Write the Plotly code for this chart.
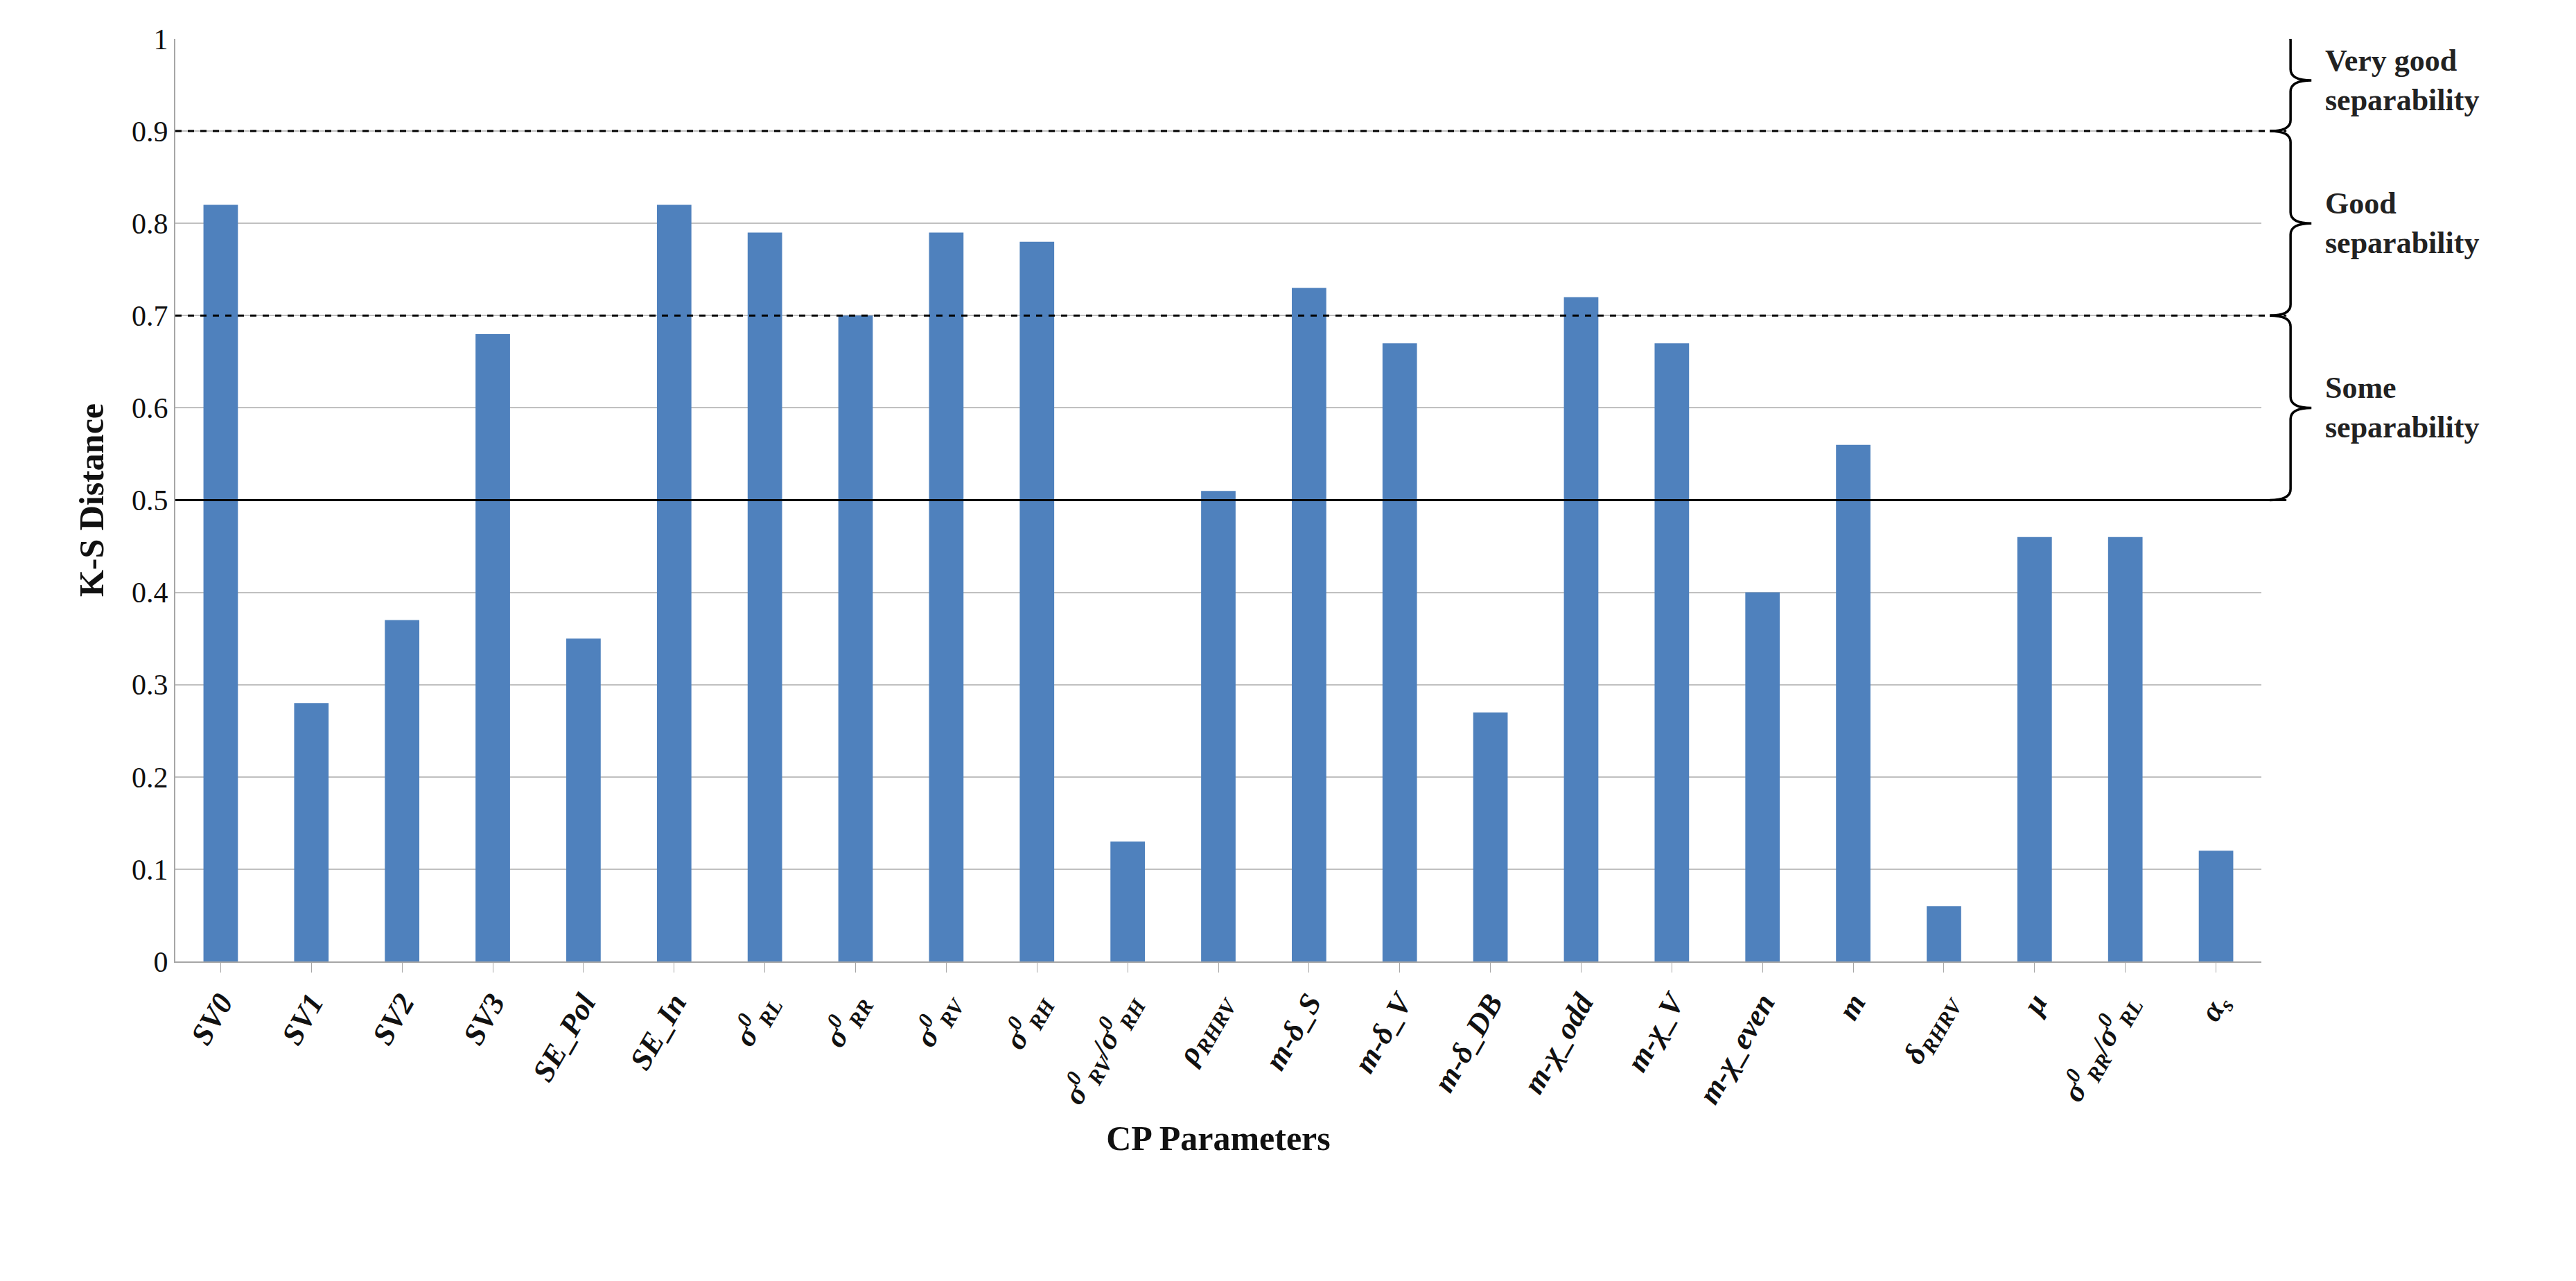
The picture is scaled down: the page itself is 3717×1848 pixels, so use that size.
import plotly.graph_objects as go

# --- data ---
params = ["<b><i>SV0</i></b>", "<b><i>SV1</i></b>", "<b><i>SV2</i></b>", "<b><i>SV3</i></b>",
          "<b><i>SE_Pol</i></b>", "<b><i>SE_In</i></b>",
          "<b><i>σ<sup>0</sup><sub>RL</sub></i></b>", "<b><i>σ<sup>0</sup><sub>RR</sub></i></b>",
          "<b><i>σ<sup>0</sup><sub>RV</sub></i></b>", "<b><i>σ<sup>0</sup><sub>RH</sub></i></b>",
          "<b><i>σ<sup>0</sup><sub>RV</sub>/σ<sup>0</sup><sub>RH</sub></i></b>",
          "<b><i>ρ<sub>RHRV</sub></i></b>", "<b><i>m-δ_S</i></b>", "<b><i>m-δ_V</i></b>",
          "<b><i>m-δ_DB</i></b>", "<b><i>m-χ_odd</i></b>", "<b><i>m-χ_V</i></b>",
          "<b><i>m-χ_even</i></b>", "<b><i>m</i></b>", "<b><i>δ<sub>RHRV</sub></i></b>",
          "<b><i>μ</i></b>", "<b><i>σ<sup>0</sup><sub>RR</sub>/σ<sup>0</sup><sub>RL</sub></i></b>",
          "<b><i>α<sub>s</sub></i></b>"]
ks_distance = [0.82, 0.28, 0.37, 0.68, 0.35, 0.82, 0.79, 0.70, 0.79, 0.78, 0.13, 0.51,
               0.73, 0.67, 0.27, 0.72, 0.67, 0.40, 0.56, 0.06, 0.46, 0.46, 0.12]
y_ticks = [0, 0.1, 0.2, 0.3, 0.4, 0.5, 0.6, 0.7, 0.8, 0.9, 1]
bands = [(0.9, 1.01, "Very good<br>separability"),
         (0.7, 0.9, "Good<br>separability"),
         (0.5, 0.7, "Some<br>separability")]
thresholds = [(0.9, "dash"), (0.7, "dash"), (0.5, "solid")]

FONT = "Liberation Serif"
BAR_COLOR = "#4f81bd"

fig = go.Figure(go.Bar(x=list(range(len(params))), y=ks_distance,
                       marker=dict(color=BAR_COLOR, line_width=0), width=0.38))

# threshold lines, extended past the plot to the braces
for yv, dash in thresholds:
    fig.add_shape(type="line", xref="paper", yref="y", x0=0, x1=1.012, y0=yv, y1=yv,
                  line=dict(color="black", width=3, dash=dash))


def brace_path(y0, y1, x0=1.004, w=0.01):
    ym = (y0 + y1) / 2
    c = 0.012
    return (f"M {x0},{y1} Q {x0 + w},{y1} {x0 + w},{y1 - c} L {x0 + w},{ym + c} "
            f"Q {x0 + w},{ym} {x0 + 2 * w},{ym} Q {x0 + w},{ym} {x0 + w},{ym - c} "
            f"L {x0 + w},{y0 + c} Q {x0 + w},{y0} {x0},{y0}")


for y0, y1, label in bands:
    fig.add_shape(type="path", xref="paper", yref="y", path=brace_path(y0, y1),
                  line=dict(color="black", width=3.5))
    fig.add_annotation(xref="paper", yref="y", x=1.03, y=(y0 + y1) / 2, text=f"<b>{label}</b>",
                       showarrow=False, xanchor="left", align="left",
                       font=dict(family=FONT, size=44, color="#222"))

fig.update_layout(
    width=3717, height=1848,
    margin=dict(l=245, r=462, t=48, b=469),
    paper_bgcolor="white", plot_bgcolor="white",
    showlegend=False,
    font=dict(family=FONT, color="#111"),
    xaxis=dict(tickmode="array", tickvals=list(range(len(params))), ticktext=params,
               tickangle=-60, tickfont=dict(size=44), range=[-0.5, len(params) - 0.5],
               showline=True, linecolor="#a6a6a6", linewidth=2, ticks="outside",
               ticklen=14, tickcolor="#a6a6a6", showgrid=False,
               title=dict(text="<b>CP Parameters</b>", font=dict(size=50), standoff=20)),
    yaxis=dict(range=[0, 1.0], tickvals=y_ticks, ticktext=[f"{v:g}" for v in y_ticks],
               tickfont=dict(size=42), showgrid=True, gridcolor="#c0c0c0", gridwidth=2,
               showline=True, linecolor="#a6a6a6", linewidth=2, zeroline=False,
               title=dict(text="<b>K-S Distance</b>", font=dict(size=50), standoff=25)),
)

fig.write_html("out.html")
